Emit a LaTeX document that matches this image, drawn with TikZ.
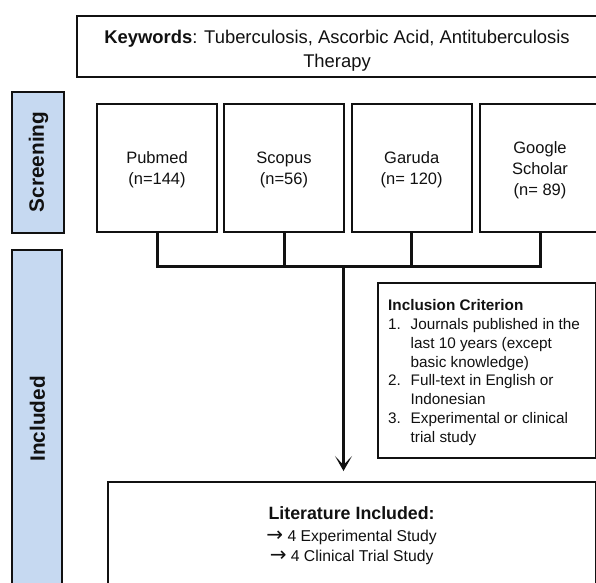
\documentclass[tikz,border=0pt]{standalone}
\usepackage{fontspec}
\setmainfont{Liberation Sans}
\newfontfamily\arrowfont{DejaVu Sans}
\usetikzlibrary{arrows.meta}
\definecolor{lblue}{HTML}{C6D9F1}
\definecolor{ink}{HTML}{111111}
\tikzset{
  box/.style={draw=ink, line width=2pt, fill=white, inner sep=0pt, align=center},
  srcbox/.style={box, minimum width=120pt, minimum height=128pt},
  srctxt/.style={inner sep=0pt, text=ink, align=center, yshift=-2pt,
    font=\fontsize{16.5pt}{20.8pt}\selectfont},
  phase/.style={draw=ink, line width=2.5pt, fill=lblue, inner sep=0pt},
  phasetxt/.style={inner sep=0pt, text=ink, rotate=90,
    font=\bfseries\fontsize{20.8pt}{24pt}\selectfont},
  conn/.style={draw=ink, line width=3pt},
  txt/.style={inner sep=0pt, text=ink}
}
\newcommand{\rarr}{{\arrowfont\fontsize{20pt}{16pt}\selectfont →}}
\begin{document}
\begin{tikzpicture}[x=1pt, y=-1pt]
\useasboundingbox (0,0) rectangle (596,582);
\clip (0,0) rectangle (596,582);
\fill[white] (0,0) rectangle (596,582);

% keywords
\node[box, minimum width=520pt, minimum height=61pt] (kw) at (337,46.5) {};
\node[txt, align=center, font=\fontsize{18.4pt}{24.3pt}\selectfont] (kwt) at (337,50.5)
  {\textbf{Keywords}: Tuberculosis, Ascorbic Acid, Antituberculosis\\Therapy};

% phase labels
\node[phase, minimum width=52pt, minimum height=141pt] (scr) at (38,162.5) {};
\node[phasetxt] (scrt) at (38.5,162) {Screening};
\node[phase, minimum width=50pt, minimum height=338pt] (inc) at (37,419) {};
\node[phasetxt] (inct) at (37.5,419) {Included};

% sources
\node[srcbox] (pub) at (157,168) {};
\node[srcbox] (sco) at (284,168) {};
\node[srcbox] (gar) at (411.7,168) {};
\node[srcbox] (goo) at (540,168) {};
\node[srctxt] (pubt) at (pub.center) {Pubmed\\(n=144)};
\node[srctxt] (scot) at (sco.center) {Scopus\\(n=56)};
\node[srctxt] (gart) at (gar.center) {Garuda\\(n= 120)};
\node[srctxt] (goot) at (goo.center) {Google\\Scholar\\(n= 89)};

% connectors
\coordinate (bus) at (343.5,266.7);
\draw[conn] (pub.south) -- (pub.south |- bus) -- (goo.south |- bus) -- (goo.south);
\draw[conn] (sco.south) -- (sco.south |- bus);
\draw[conn] (gar.south) -- (gar.south |- bus);

% inclusion criterion
\node[box, minimum width=218pt, minimum height=175pt] (crit) at (487,370.5) {};
\node[txt, anchor=north west, align=left, font=\fontsize{15.3pt}{18.75pt}\selectfont] (critt) at (388,299.5)
  {\textbf{Inclusion Criterion}\\
   \makebox[22.5pt][l]{1.}Journals published in the\\
   \makebox[22.5pt][l]{}last 10 years (except\\
   \makebox[22.5pt][l]{}basic knowledge)\\
   \makebox[22.5pt][l]{2.}Full-text in English or\\
   \makebox[22.5pt][l]{}Indonesian\\
   \makebox[22.5pt][l]{3.}Experimental or clinical\\
   \makebox[22.5pt][l]{}trial study};

% literature included
\node[box, minimum width=488.5pt, minimum height=108pt] (lit) at (351.75,536) {};
\node[txt, align=center, font=\fontsize{15.7pt}{19.7pt}\selectfont] (litt) at (351.6,536)
  {\textbf{\fontsize{17.8pt}{19.7pt}\selectfont Literature Included:}\\[2.3pt]
   \rarr\ 4 Experimental Study\\
   \rarr\ 4 Clinical Trial Study};

% arrow
\draw[conn, -{Stealth[length=15pt, width=17pt, inset=9pt]}, shorten >=10pt] (bus) -- (bus |- lit.north);
\end{tikzpicture}
\end{document}
